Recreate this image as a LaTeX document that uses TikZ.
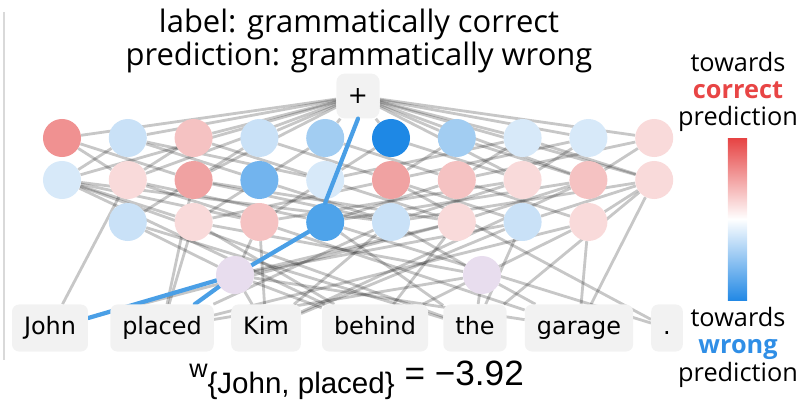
\documentclass[tikz,border=0pt]{standalone}
\usepackage{fontspec}
\setmainfont{Open Sans}
\newfontfamily\tokfont{DejaVu Sans}
\newfontfamily\arialfont{Liberation Sans}
\usetikzlibrary{backgrounds}

\definecolor{redS}{HTML}{F09191}
\definecolor{redM}{HTML}{F0A2A2}
\definecolor{redL}{HTML}{F5C2C2}
\definecolor{redP}{HTML}{F9DADA}
\definecolor{bluePale}{HTML}{D7E9F9}
\definecolor{blueLight}{HTML}{C9E1F7}
\definecolor{blueMid}{HTML}{A2CDF2}
\definecolor{blueMed}{HTML}{72B4EE}
\definecolor{blueStr}{HTML}{4EA3EA}
\definecolor{blueDeep}{HTML}{1E88E5}
\definecolor{lilac}{HTML}{E8DDEE}
\definecolor{boxgray}{HTML}{F2F2F2}
\definecolor{hotblue}{HTML}{4A9FE6}
\definecolor{barred}{HTML}{E64343}
\definecolor{barblue}{HTML}{2389E5}
\definecolor{txtred}{HTML}{E84545}
\definecolor{txtblue}{HTML}{2F8EE6}

\begin{document}
\begin{tikzpicture}[x=0.025cm, y=-0.025cm,
  unit/.style={circle, minimum size=0.95cm, inner sep=0pt},
  tok/.style={fill=boxgray, rounded corners=5pt, minimum height=1.175cm, inner xsep=0.3cm,
    text height=12.5pt, text depth=3.5pt, font=\tokfont\fontsize{17}{20}\selectfont},
  edge/.style={line width=2pt, black, opacity=0.22},
  hot/.style={line width=3pt, hotblue, line cap=round},
  legend/.style={align=center, font=\fontsize{18}{19.5}\selectfont},
]
\useasboundingbox (0,0) rectangle (808,401);

% left frame line
\coordinate (ftop) at (4,12);
\coordinate (fbot) at (4,360);
\draw[line width=2pt, black!15] (ftop) -- (fbot);

% title
\node[align=center, font=\fontsize{22}{23}\selectfont] (title) at (359,41)
  {label: grammatically correct\\prediction: grammatically wrong};

% output node
\node[fill=boxgray, rounded corners=6pt, minimum width=1.08cm, minimum height=1.12cm,
  font=\tokfont\fontsize{17}{20}\selectfont] (plus) at (358,96) {+};

% three rows of units
\foreach \c [count=\i] in {redS,blueLight,redL,blueLight,blueMid,blueDeep,blueMid,bluePale,bluePale,redP}
  \node[unit, fill=\c] (a\i) at ({62+65.8*(\i-1)},138) {};
\foreach \c [count=\i] in {bluePale,redP,redM,blueMed,bluePale,redM,redL,redP,redL,redP}
  \node[unit, fill=\c] (b\i) at ({62+65.8*(\i-1)},180) {};
\foreach \c [count=\i from 2] in {blueLight,redP,redL,blueStr,blueLight,redP,blueLight,redP}
  \node[unit, fill=\c] (c\i) at ({62+65.8*(\i-1)},222) {};
\node[unit, fill=lilac] (p1) at (235,275) {};
\node[unit, fill=lilac] (p2) at (482,275) {};

% tokens
\node[tok] (t1) at (50,328) {John};
\node[tok] (t2) at (162,328) {placed};
\node[tok] (t3) at (266,328) {Kim};
\node[tok] (t4) at (375,328) {behind};
\node[tok] (t5) at (475,328) {the};
\node[tok] (t6) at (579,328) {garage};
\node[tok] (t7) at (667,328) {.};

% connections
\begin{scope}[on background layer]
\foreach \i in {1,...,10} \draw[edge] (plus) -- (a\i);
\foreach \i in {1,2,3,8,9,10} \draw[edge] (plus) -- (b\i);
\foreach \s/\t in {a1/b2,a1/b3,a2/b1,a2/b4,a2/b5,a3/b2,a3/b5,a4/b3,a4/b6,a5/b4,a5/b7,
    a6/b5,a6/b8,a7/b6,a7/b9,a8/b7,a8/b10,a8/b5,a9/b6,a9/b8,a10/b9,a10/b7}
  \draw[edge] (\s) -- (\t);
\foreach \s/\t in {b1/c3,b1/c4,b1/c6,b2/c4,b2/c5,b3/c2,b3/c6,b3/c7,b4/c3,b4/c6,b5/c4,b5/c7,
    b6/c3,b6/c8,b7/c5,b7/c9,b8/c6,b8/c4,b9/c7,b9/c5,b10/c8,b10/c6,b10/c9}
  \draw[edge] (\s) -- (\t);
\foreach \s/\t in {b1/t4,b2/t1,b10/t6,b10/t5,b9/t3,b1/t5,b3/t2,b6/t7}
  \draw[edge] (\s) -- (\t);
\foreach \s/\t in {c2/p1,c2/t5,c3/t4,c3/t2,c4/t6,c4/t3,c5/t5,c5/t7,c6/t2,c6/t3,c6/p2,
    c7/t1,c7/t4,c8/t5,c8/t3,c9/t6,c9/t4,c9/t2,c3/p2,c4/p1,c7/p1,c8/p1}
  \draw[edge] (\s) -- (\t);
\foreach \s/\t in {p1/t3,p1/t4,p2/t5,p2/t6,p2/t2,p1/t6}
  \draw[edge] (\s) -- (\t);
% strongest path
\draw[hot] ([yshift=0.25cm]t1.east) -- (p1) -- (c5);
\draw[hot] (t2) -- (p1);
\end{scope}
\draw[hot] (plus.south) -- (c5.north);

% weight of the pair
\node[anchor=base west, inner sep=0pt, font=\arialfont] (wval) at (189,385)
  {\raisebox{5pt}{\fontsize{18}{18}\selectfont w}\raisebox{-5.7pt}{\fontsize{21}{21}\selectfont\{John, placed\}}%
   \hspace{7pt}\fontsize{25}{25}\selectfont= \textminus3.92};

% colour legend
\node[legend] (lgtop) at (738,92) {towards\\\textbf{\textcolor{txtred}{correct}}\\prediction};
\node[legend] (lgbot) at (738,347) {towards\\\textbf{\textcolor{txtblue}{wrong}}\\prediction};
\coordinate (barN) at (737.5,138);
\coordinate (barM) at (737.5,219);
\coordinate (barS) at (737.5,300);
\shade[top color=barred, bottom color=white] ([xshift=-0.24cm]barN) rectangle ([xshift=0.24cm]barM);
\shade[top color=white, bottom color=barblue] ([xshift=-0.24cm]barM) rectangle ([xshift=0.24cm]barS);
\end{tikzpicture}
\end{document}
